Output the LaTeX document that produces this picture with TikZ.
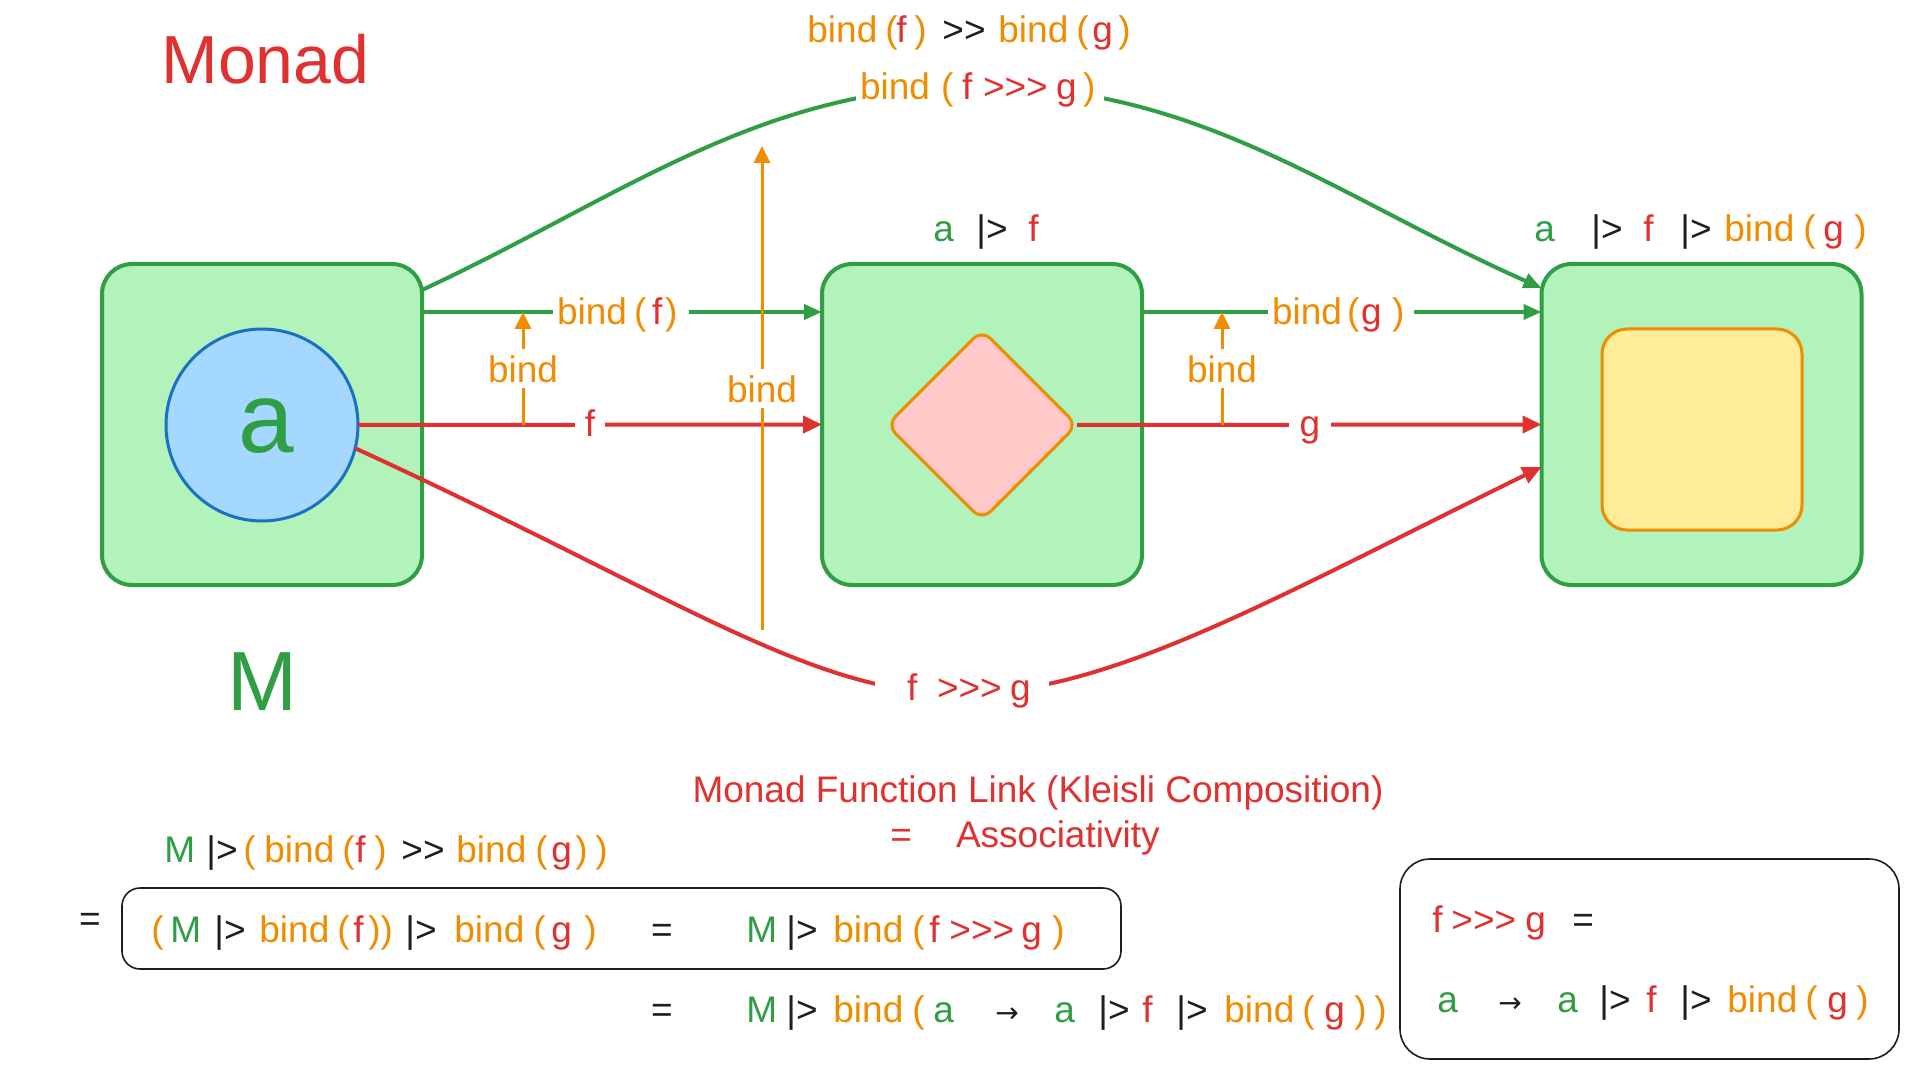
\documentclass[tikz,border=0pt]{standalone}
\usepackage{fontspec}
\newfontfamily\lsf{Liberation Sans}
\newfontfamily\djv{DejaVu Sans}
\usetikzlibrary{arrows.meta,shapes.geometric,calc}
\definecolor{gstk}{HTML}{2F9E44}
\definecolor{gfil}{HTML}{B2F2BB}
\definecolor{rstk}{HTML}{E03131}
\definecolor{ostk}{HTML}{F08C00}
\definecolor{bstk}{HTML}{1971C2}
\definecolor{bfil}{HTML}{A5D8FF}
\definecolor{pfil}{HTML}{FFC9C9}
\definecolor{yfil}{HTML}{FFEC99}
\definecolor{ink}{HTML}{1E1E1E}
\newcommand\fs[1]{\lsf\fontsize{#1}{#1}\selectfont}
\newcommand\pc[3]{\makebox[0pt][l]{\hspace*{#1pt}\textcolor{#2}{#3}}}
\newcommand\arw{{\djv\fontsize{14}{14}\selectfont →}}
\begin{document}
\begin{tikzpicture}[x=0.5pt,y=-0.5pt,
  cbox/.style={draw=gstk, fill=gfil, line width=2pt, rounded corners=15pt, minimum width=160pt, minimum height=160.5pt, inner sep=0pt, outer sep=0pt},
  txt/.style={inner sep=0pt, font=\fs{18.5}, anchor=base west, text=ink},
  lbl/.style={fill=white, inner xsep=2pt, inner ysep=3pt, font=\fs{18.5}},
  ga/.style={draw=gstk, line width=2pt, -{Triangle[length=9pt,width=7.5pt]}},
  ra/.style={draw=rstk, line width=2pt, -{Triangle[length=9.5pt,width=8.5pt]}},
  oa/.style={draw=ostk, line width=1.5pt, -{Triangle[length=8.5pt,width=8pt]}},
  fbox/.style={draw=ink, line width=0.8pt, rounded corners=9pt, inner sep=0pt, outer sep=0pt},
  hand/.style={text=rstk, inner sep=0pt, anchor=base west, font=\fs{18.5}}
]
\fill[white] (0,0) rectangle (1926,1069);
\useasboundingbox (0,0) rectangle (1926,1069);

% title
\node[hand, font=\fs{34}] (title) at (161,84) {Monad};

% containers and values
\node[cbox] (lbox) at (262,424.5) {};
\node[cbox] (mbox) at (982,424.5) {};
\node[cbox] (rbox) at (1701.5,424.5) {};
\node[circle, draw=bstk, fill=bfil, line width=1.5pt, minimum size=96pt, inner sep=0pt, outer sep=0pt] (circ) at (262,425) {};
\node[anchor=base, inner sep=0pt, text=gstk, font=\fs{50}] (aa) at (266,452) {a};
\node[diamond, draw=ostk, fill=pfil, line width=1.5pt, minimum width=95pt, minimum height=95pt, inner sep=0pt, outer sep=0pt, rounded corners=6pt] (dia) at (982,425) {};
\node[rectangle, draw=ostk, fill=yfil, line width=1.5pt, rounded corners=12.5pt, minimum width=100pt, minimum height=100.5pt, inner sep=0pt, outer sep=0pt] (ybox) at (1702,429.5) {};
\node[anchor=base, inner sep=0pt, text=gstk, font=\fs{42}] (mm) at (262,710) {M};

% straight connectors
\draw[ga] ($(lbox.east)+(0,-112.5)$) -- ($(mbox.west)+(0,-112.5)$);
\draw[ga] ($(mbox.east)+(0,-112.5)$) -- ($(rbox.west)+(0,-112.5)$);
\draw[ra] (circ.east) -- (mbox.west);
\draw[ra] (dia.east) -- (rbox.west);

% curved connectors
\coordinate (topmid) at (980,86);
\draw[ga] ($(lbox.east)+(0,-134.5)$) .. controls (622,197) and (760,86) .. (topmid) .. controls (1200,86) and (1336,197) .. ($(rbox.west)+(0,-136.5)$);
\coordinate (botmid) at (960,694);
\draw[ra] (circ.-14) .. controls (677,596) and (810,694) .. (botmid) .. controls (1110,694) and (1272,599) .. ($(rbox.west)+(0,42.5)$);

% bind arrows
\coordinate (o1s) at (523,425); \coordinate (o1e) at (523,312);
\coordinate (o2s) at (1222,425); \coordinate (o2e) at (1222,312);
\coordinate (o3s) at (762,630); \coordinate (o3e) at (762,146);
\draw[oa] (o1s) -- (o1e);
\draw[oa] (o2s) -- (o2e);
\draw[oa] (o3s) -- (o3e);

% labels on connectors
\node[lbl, anchor=base] (lb1) at (523,382) {\textcolor{ostk}{bind}};
\node[lbl, anchor=base] (lb2) at (1222,382) {\textcolor{ostk}{bind}};
\node[lbl, anchor=base] (lb3) at (762,402) {\textcolor{ostk}{bind}};
\node[lbl, anchor=base] (lbf) at (621,325) {\makebox[64pt][l]{\pc{0}{ostk}{bind}\pc{38.5}{ostk}{(}\pc{47.5}{rstk}{f}\pc{54}{ostk}{)}}};
\node[lbl, anchor=base] (lbg) at (1341,325) {\makebox[69pt][l]{\pc{0}{ostk}{bind}\pc{37.5}{ostk}{(}\pc{44.5}{rstk}{g}\pc{60}{ostk}{)}}};
\node[lbl, anchor=base, inner xsep=5pt] (lf) at (590,437) {\textcolor{rstk}{f}};
\node[lbl, anchor=base, inner xsep=5.5pt] (lg) at (1310,437) {\textcolor{rstk}{g}};
\node[lbl, anchor=base] (ltop) at (980,100) {\makebox[120pt][l]{\pc{0}{ostk}{bind}\pc{40.5}{ostk}{(}\pc{51}{rstk}{f}\pc{61.5}{rstk}{>>>}\pc{98}{rstk}{g}\pc{111.5}{ostk}{)}}};
\node[lbl, anchor=base, inner xsep=0pt] (lfg) at (962,700) {\makebox[87pt][l]{\pc{16}{rstk}{f}\pc{31}{rstk}{>>>}\pc{67.5}{rstk}{g}}};

% texts above
\node[txt] (t1) at (806,43) {\pc{0}{ostk}{bind}\pc{39}{ostk}{(}\pc{44.5}{rstk}{f}\pc{53.5}{ostk}{)}\pc{67.5}{ink}{>>}\pc{95.5}{ostk}{bind}\pc{134.5}{ostk}{(}\pc{142.5}{rstk}{g}\pc{155.5}{ostk}{)}};
\node[txt] (t3) at (932,242) {\pc{0}{gstk}{a}\pc{21.5}{ink}{|>}\pc{47.5}{rstk}{f}};
\node[txt] (t4) at (1533,242) {\pc{0}{gstk}{a}\pc{28.5}{ink}{|>}\pc{54.5}{rstk}{f}\pc{73}{ink}{|>}\pc{95}{ostk}{bind}\pc{134.5}{ostk}{(}\pc{144.5}{rstk}{g}\pc{160}{ostk}{)}};

% handwritten caption
\node[hand, anchor=base] (h1) at (1038,802) {Monad Function Link (Kleisli Composition)};
\node[hand] (h2) at (890,847) {=\hspace*{22pt}Associativity};

% formulas
\node[txt] (f1) at (163,862) {\pc{0}{gstk}{M}\pc{21}{ink}{|>}\pc{39.5}{ostk}{(}\pc{50}{ostk}{bind}\pc{89}{ostk}{(}\pc{95.5}{rstk}{f}\pc{105}{ostk}{)}\pc{118.5}{ink}{>>}\pc{146}{ostk}{bind}\pc{185.5}{ostk}{(}\pc{193.5}{rstk}{g}\pc{205.5}{ostk}{)}\pc{215.5}{ostk}{)}};
\node[txt, anchor=base] (eq0) at (90,931) {=};
\node[fbox, minimum width=499.5pt, minimum height=40.5pt] (eqbox) at (621.5,928.5) {};
\node[txt] (f2) at (150,942) {\pc{0}{ostk}{(}\pc{9.5}{gstk}{M}\pc{31.5}{ink}{|>}\pc{54}{ostk}{bind}\pc{93}{ostk}{(}\pc{101}{rstk}{f}\pc{108.5}{ostk}{))}\pc{127}{ink}{|>}\pc{151.5}{ostk}{bind}\pc{191}{ostk}{(}\pc{200}{rstk}{g}\pc{216.5}{ostk}{)}};
\node[txt, anchor=base] (eq1) at (662,942) {=};
\node[txt] (f3) at (745,942) {\pc{0}{gstk}{M}\pc{20}{ink}{|>}\pc{43.5}{ostk}{bind}\pc{83}{ostk}{(}\pc{91.5}{rstk}{f}\pc{101.5}{rstk}{>>>}\pc{137.5}{rstk}{g}\pc{153}{ostk}{)}};
\node[txt, anchor=base] (eq2) at (662,1022) {=};
\node[txt] (f4) at (745,1022) {\pc{0}{gstk}{M}\pc{20}{ink}{|>}\pc{43.5}{ostk}{bind}\pc{83}{ostk}{(}\pc{93.5}{gstk}{a}\pc{124.5}{ink}{\arw}\pc{154}{gstk}{a}\pc{176}{ink}{|>}\pc{198}{rstk}{f}\pc{215}{ink}{|>}\pc{239}{ostk}{bind}\pc{278}{ostk}{(}\pc{289}{rstk}{g}\pc{304}{ostk}{)}\pc{314}{ostk}{)}};

% definition box
\node[fbox, rounded corners=15pt, minimum width=249.5pt, minimum height=100pt] (defbox) at (1649.5,959) {};
\node[txt] (d1) at (1431,932) {\pc{0}{rstk}{f}\pc{9.5}{rstk}{>>>}\pc{46.5}{rstk}{g}\pc{70}{ink}{=}};
\node[txt] (d2) at (1436,1012) {\pc{0}{gstk}{a}\pc{30.5}{ink}{\arw}\pc{60}{gstk}{a}\pc{81}{ink}{|>}\pc{104.5}{rstk}{f}\pc{121.5}{ink}{|>}\pc{145}{ostk}{bind}\pc{184}{ostk}{(}\pc{195}{rstk}{g}\pc{209.5}{ostk}{)}};
\end{tikzpicture}
\end{document}
